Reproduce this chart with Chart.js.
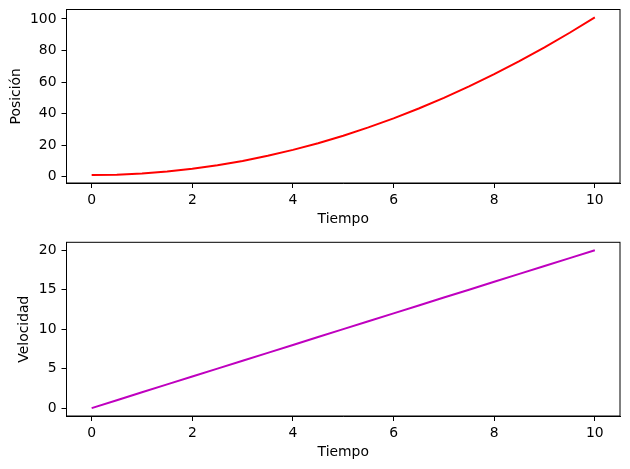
<!DOCTYPE html>
<html>
<head>
<meta charset="utf-8">
<script src="https://cdn.jsdelivr.net/npm/chart.js@4/dist/chart.umd.min.js"></script>
<style>
  body { margin: 0; background: #fff; }
  .box { position: absolute; left: 0; width: 630px; }
  #top { top: 0; height: 234px; }
  #bottom { top: 234px; height: 235px; }
</style>
</head>
<body>
<div class="box" id="top"><canvas id="posChart"></canvas></div>
<div class="box" id="bottom"><canvas id="velChart"></canvas></div>
<script>
// values
const tiempo = [0, 0.5, 1, 1.5, 2, 2.5, 3, 3.5, 4, 4.5, 5, 5.5, 6, 6.5, 7, 7.5, 8, 8.5, 9, 9.5, 10];
const posicion = [1, 1.25, 2, 3.25, 5, 7.25, 10, 13.25, 17, 21.25, 26, 31.25, 37, 43.25, 50, 57.25, 65, 73.25, 82, 91.25, 101];
const velocidad = [0, 1, 2, 3, 4, 5, 6, 7, 8, 9, 10, 11, 12, 13, 14, 15, 16, 17, 18, 19, 20];
const xTicks = [0, 2, 4, 6, 8, 10];
const posTicks = [0, 20, 40, 60, 80, 100];
const velTicks = [0, 5, 10, 15, 20];

const font = { family: "DejaVu Sans", size: 13.9 };

// draw the full box round the plot area, like matplotlib
const frame = {
  id: "frame",
  afterDraw(chart) {
    const { ctx, chartArea: a } = chart;
    ctx.save();
    ctx.strokeStyle = "#000";
    ctx.lineWidth = 1;
    ctx.strokeRect(a.left, a.top, a.right - a.left, a.bottom - a.top);
    ctx.restore();
  },
};

function makeChart(id, values, color, yLabel, yMin, yMax, yTicks, opts) {
  const ctx = document.getElementById(id).getContext("2d");
  return new Chart(ctx, {
    type: "line",
    data: {
      datasets: [
        {
          data: tiempo.map((t, i) => ({ x: t, y: values[i] })),
          borderColor: color,
          borderWidth: 2,
          pointRadius: 0,
          fill: false,
          tension: 0,
        },
      ],
    },
    options: {
      responsive: true,
      maintainAspectRatio: false,
      animation: false,
      events: [],
      layout: { padding: { top: opts.padTop, right: 10, left: 0, bottom: 0 } },
      plugins: { legend: { display: false }, tooltip: { enabled: false } },
      scales: {
        x: {
          type: "linear",
          min: -0.5,
          max: 10.5,
          afterBuildTicks: (s) => (s.ticks = xTicks.map((v) => ({ value: v }))),
          afterFit: (s) => {
            s.height = opts.xHeight;
            s.paddingLeft = 0;
            s.paddingRight = 0;
          },
          grid: { drawOnChartArea: false, drawTicks: true, tickLength: 5, color: "#000" },
          border: { display: true, color: "#000" },
          ticks: { color: "#000", font: font, padding: 4, maxRotation: 0 },
          title: {
            display: true,
            text: "Tiempo",
            color: "#000",
            font: font,
            padding: { top: 0, bottom: opts.xTitlePad },
          },
        },
        y: {
          min: yMin,
          max: yMax,
          afterBuildTicks: (s) => (s.ticks = yTicks.map((v) => ({ value: v }))),
          afterFit: (s) => {
            s.width = 66.5;
            s.paddingTop = 0;
            s.paddingBottom = 0;
          },
          grid: { drawOnChartArea: false, drawTicks: true, tickLength: 5, color: "#000" },
          border: { display: true, color: "#000" },
          ticks: { color: "#000", font: font, padding: 5 },
          title: {
            display: true,
            text: yLabel,
            color: "#000",
            font: font,
            padding: { top: opts.yTitlePad, bottom: 0 },
          },
        },
      },
    },
    plugins: [frame],
  });
}

makeChart("posChart", posicion, "#ff0000", "Posición", -4, 106, posTicks, {
  padTop: 9.5,
  xHeight: 51,
  xTitlePad: 6.6,
  yTitlePad: 7.6,
});

makeChart("velChart", velocidad, "#bf00bf", "Velocidad", -1, 21, velTicks, {
  padTop: 8.3,
  xHeight: 53,
  xTitlePad: 8.6,
  yTitlePad: 15.6,
});
</script>
</body>
</html>
